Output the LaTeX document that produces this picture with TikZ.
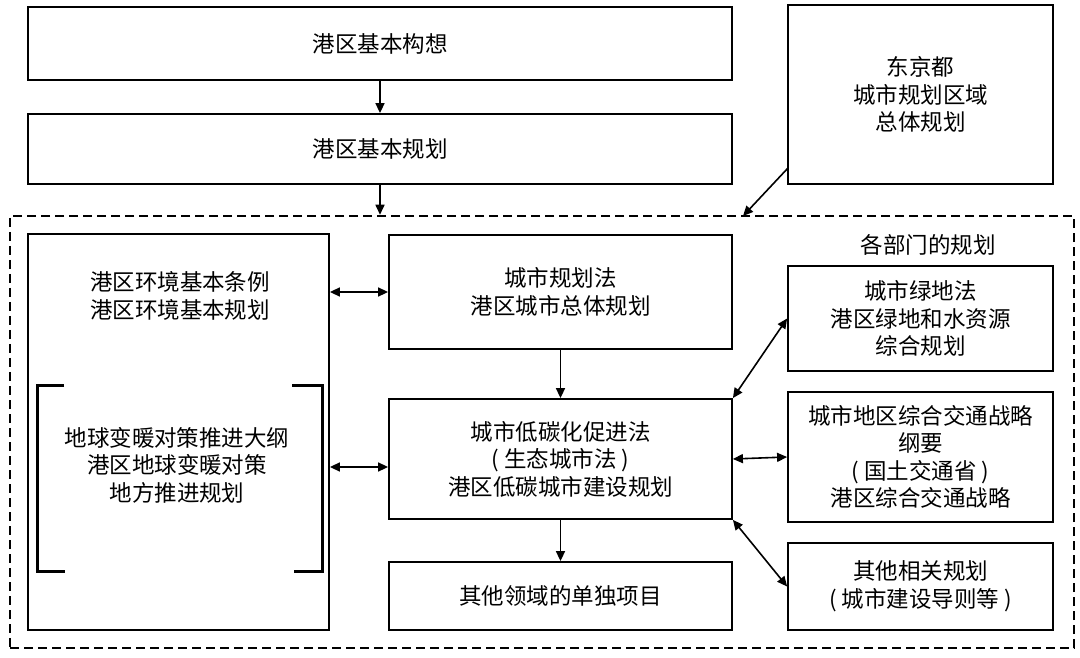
\documentclass[tikz,border=0pt]{standalone}
\usepackage{fontspec}
\setmainfont{Noto Sans CJK SC}
\usetikzlibrary{arrows.meta,calc}
\begin{document}
\begin{tikzpicture}[x=1pt,y=-1pt,
  box/.style={draw=black,line width=1.8pt,inner sep=0pt,align=center,
    font=\fontsize{22.5pt}{27.5pt}\selectfont},
  txt/.style={inner sep=0pt,align=center,font=\fontsize{22.5pt}{27.5pt}\selectfont},
  arr/.style={line width=1.6pt,-{Triangle[length=10pt,width=9pt]}},
  darr/.style={line width=1.6pt,{Triangle[length=10pt,width=9pt]}-{Triangle[length=10pt,width=9pt]}},
  brk/.style={line width=3pt}]
\useasboundingbox (0,0) rectangle (1080,658);
\fill[white] (0,0) rectangle (1080,658);
% top boxes
\node[box,minimum width=704pt,minimum height=73pt] (b1) at (380,43.5) {港区基本构想};
\node[box,minimum width=704pt,minimum height=70pt] (b2) at (380,149) {港区基本规划};
\node[box,minimum width=265pt,minimum height=179pt] (tk) at (920.5,94.5) {东京都\\城市规划区域\\总体规划};
% dashed frame
\node[draw=black,line width=2.5pt,dash pattern=on 9pt off 5pt,minimum width=1064pt,minimum height=432pt,inner sep=0pt] (fr) at (542,432) {};
% left column
\node[box,minimum width=301pt,minimum height=396pt] (left) at (178.5,432) {};
\node[txt] (lt1) at (180,296) {港区环境基本条例\\港区环境基本规划};
\node[txt] (lt2) at (177,465) {地球变暖对策推进大纲\\港区地球变暖对策\\地方推进规划};
\draw[brk] (64,385) -- (37,385) -- (37,571) -- (65,571);
\draw[brk] (292,385) -- (322,385) -- (322,571) -- (294,571);
% centre column
\node[box,minimum width=343pt,minimum height=114pt] (cp) at (560.5,292) {城市规划法\\港区城市总体规划};
\node[box,minimum width=343pt,minimum height=120pt] (lc) at (560.5,459) {城市低碳化促进法\\( 生态城市法 )\\港区低碳城市建设规划};
\node[box,minimum width=343pt,minimum height=68pt] (of) at (560.5,596) {其他领域的单独项目};
% right column
\node[txt] (lab) at (928,245) {各部门的规划};
\node[box,minimum width=265pt,minimum height=105pt] (gr) at (920.5,318.5) {城市绿地法\\港区绿地和水资源\\综合规划};
\node[box,minimum width=265pt,minimum height=130pt] (tr) at (920.5,457) {城市地区综合交通战略\\纲要\\( 国土交通省 )\\港区综合交通战略};
\node[box,minimum width=265pt,minimum height=87pt] (ot) at (920.5,586.5) {其他相关规划\\( 城市建设导则等 )};
% connectors
\coordinate (tks) at (788,168);
\coordinate (fre) at (743,216);
\draw[arr] (b1) -- (b2);
\draw[arr] (b2.south) -- (b2.south |- fr.north);
\draw[arr] (tks) -- (fre);
\draw[darr] (cp.west -| left.east) -- (cp.west);
\draw[darr] (left.east |- 0,467) -- (lc.west |- 0,467);
\draw[arr] (cp) -- (lc);
\draw[arr] (lc) -- (of);
\draw[darr] (lc.north east) -- (gr.west);
\draw[darr] (lc.east) -- (tr.west);
\draw[darr] (lc.south east) -- (ot.west);
\end{tikzpicture}
\end{document}
